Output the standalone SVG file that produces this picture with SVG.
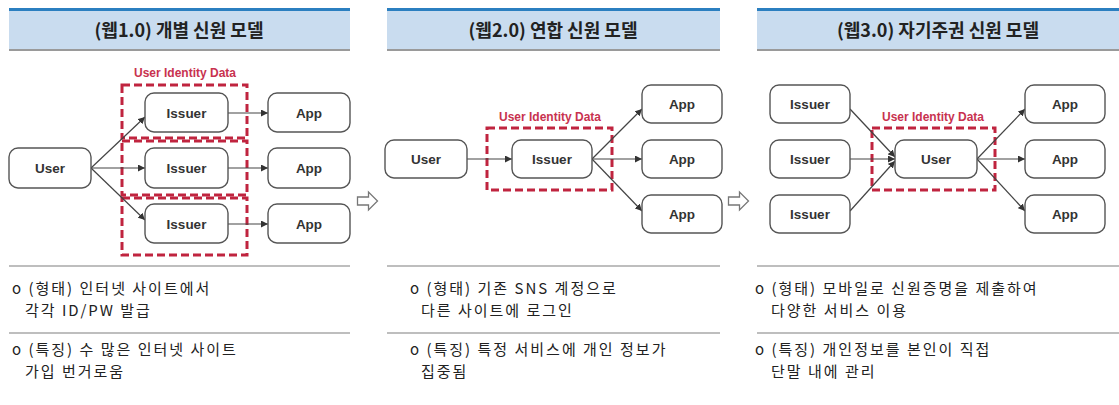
<svg xmlns="http://www.w3.org/2000/svg" width="1119" height="405" viewBox="0 0 1119 405">
<defs>
<marker id="ah" viewBox="0 0 10 10" refX="10" refY="5" markerWidth="7" markerHeight="7" markerUnits="userSpaceOnUse" orient="auto">
<path d="M0,0 L10,5 L0,10 z" fill="#333"/>
</marker>
<style>
.band{fill:#c9dcef}
.topl{stroke:#2b7fc0;stroke-width:3}
.botl{stroke:#9a9a9a;stroke-width:2}
.sep{stroke:#a8a8a8;stroke-width:1.5}
.title{font-family:"Noto Sans CJK KR","Noto Sans",sans-serif;font-size:18px;font-weight:bold;fill:#222;text-anchor:middle}
.node rect{fill:#fff;stroke:#555;stroke-width:1.4}
.node text{font-family:"Liberation Sans","Noto Sans",sans-serif;font-size:13.5px;font-weight:bold;fill:#333;text-anchor:middle}
.dash{fill:none;stroke:#c0243f;stroke-width:3;stroke-dasharray:8,4}
.uid{font-family:"Liberation Sans","Noto Sans",sans-serif;font-size:12px;font-weight:bold;fill:#c8324f;text-anchor:middle}
.conn line{stroke:#444;stroke-width:1.2;marker-end:url(#ah)}
.hollow{fill:#fff;stroke:#777;stroke-width:1.3}
.body{font-family:"Noto Sans CJK KR","Noto Sans",sans-serif;font-size:15px;letter-spacing:2px;fill:#222}
</style>
</defs>
<rect width="1119" height="405" fill="#fff"/>

<!-- Headers -->
<g id="header1">
<rect class="band" x="9" y="9" width="341" height="41"/>
<line class="topl" x1="9" y1="9.5" x2="350" y2="9.5"/>
<line class="botl" x1="9" y1="50" x2="350" y2="50"/>
<text class="title" x="179" y="37">(웹1.0) 개별 신원 모델</text>
</g>
<g id="header2">
<rect class="band" x="387" y="9" width="333" height="41"/>
<line class="topl" x1="387" y1="9.5" x2="720" y2="9.5"/>
<line class="botl" x1="387" y1="50" x2="720" y2="50"/>
<text class="title" x="553" y="37">(웹2.0) 연합 신원 모델</text>
</g>
<g id="header3">
<rect class="band" x="757" y="9" width="362" height="41"/>
<line class="topl" x1="757" y1="9.5" x2="1119" y2="9.5"/>
<line class="botl" x1="757" y1="50" x2="1119" y2="50"/>
<text class="title" x="938" y="37">(웹3.0) 자기주권 신원 모델</text>
</g>

<!-- Dashed "User Identity Data" groups -->
<g id="uid1">
<rect class="dash" x="122" y="85" width="125" height="53"/>
<rect class="dash" x="122" y="141" width="125" height="54"/>
<rect class="dash" x="122" y="198" width="125" height="57"/>
<text class="uid" x="185" y="77">User Identity Data</text>
</g>
<g id="uid2">
<rect class="dash" x="487" y="128" width="125" height="62"/>
<text class="uid" x="550" y="121">User Identity Data</text>
</g>
<g id="uid3">
<rect class="dash" x="872" y="128" width="123" height="62"/>
<text class="uid" x="933" y="121">User Identity Data</text>
</g>

<!-- Connectors -->
<g id="connectors" class="conn">
<line x1="91" y1="168" x2="145" y2="117"/>
<line x1="91" y1="168" x2="145" y2="168"/>
<line x1="91" y1="168" x2="145" y2="220"/>
<line x1="228" y1="113" x2="268" y2="113"/>
<line x1="228" y1="168" x2="268" y2="168"/>
<line x1="228" y1="224" x2="268" y2="224"/>

<line x1="467" y1="159" x2="512" y2="159"/>
<line x1="592" y1="159" x2="642" y2="109"/>
<line x1="592" y1="159" x2="642" y2="159"/>
<line x1="592" y1="159" x2="642" y2="211"/>

<line x1="850" y1="109" x2="895" y2="157"/>
<line x1="850" y1="159" x2="895" y2="159"/>
<line x1="850" y1="211" x2="895" y2="161"/>
<line x1="977" y1="159" x2="1025" y2="109"/>
<line x1="977" y1="159" x2="1025" y2="159"/>
<line x1="977" y1="159" x2="1025" y2="211"/>
</g>

<!-- Panel 1 nodes -->
<g id="p1-user" class="node"><rect x="9" y="148" width="82" height="40" rx="9"/><text x="50" y="173">User</text></g>
<g id="p1-issuer1" class="node"><rect x="145" y="93" width="83" height="39" rx="9"/><text x="186.5" y="117.5">Issuer</text></g>
<g id="p1-issuer2" class="node"><rect x="145" y="148" width="83" height="40" rx="9"/><text x="186.5" y="173">Issuer</text></g>
<g id="p1-issuer3" class="node"><rect x="145" y="204" width="83" height="39" rx="9"/><text x="186.5" y="228.5">Issuer</text></g>
<g id="p1-app1" class="node"><rect x="268" y="93" width="82" height="39" rx="9"/><text x="309" y="117.5">App</text></g>
<g id="p1-app2" class="node"><rect x="268" y="148" width="82" height="40" rx="9"/><text x="309" y="173">App</text></g>
<g id="p1-app3" class="node"><rect x="268" y="204" width="82" height="39" rx="9"/><text x="309" y="228.5">App</text></g>

<!-- Panel 2 nodes -->
<g id="p2-user" class="node"><rect x="385" y="140" width="82" height="38" rx="9"/><text x="426" y="164">User</text></g>
<g id="p2-issuer" class="node"><rect x="512" y="140" width="80" height="38" rx="9"/><text x="552" y="164">Issuer</text></g>
<g id="p2-app1" class="node"><rect x="642" y="85" width="80" height="38" rx="9"/><text x="682" y="109">App</text></g>
<g id="p2-app2" class="node"><rect x="642" y="140" width="80" height="38" rx="9"/><text x="682" y="164">App</text></g>
<g id="p2-app3" class="node"><rect x="642" y="195" width="80" height="38" rx="9"/><text x="682" y="219">App</text></g>

<!-- Panel 3 nodes -->
<g id="p3-issuer1" class="node"><rect x="770" y="85" width="80" height="38" rx="9"/><text x="810" y="109">Issuer</text></g>
<g id="p3-issuer2" class="node"><rect x="770" y="140" width="80" height="38" rx="9"/><text x="810" y="164">Issuer</text></g>
<g id="p3-issuer3" class="node"><rect x="770" y="195" width="80" height="38" rx="9"/><text x="810" y="219">Issuer</text></g>
<g id="p3-user" class="node"><rect x="895" y="140" width="82" height="38" rx="9"/><text x="936" y="164">User</text></g>
<g id="p3-app1" class="node"><rect x="1025" y="85" width="80" height="38" rx="9"/><text x="1065" y="109">App</text></g>
<g id="p3-app2" class="node"><rect x="1025" y="140" width="80" height="38" rx="9"/><text x="1065" y="164">App</text></g>
<g id="p3-app3" class="node"><rect x="1025" y="195" width="80" height="38" rx="9"/><text x="1065" y="219">App</text></g>

<!-- Hollow transition arrows -->
<g id="next1"><path class="hollow" d="M357.5,197 h11 v-5 l9,9 l-9,9 v-5 h-11 z"/></g>
<g id="next2"><path class="hollow" d="M728.5,197 h11 v-5 l9,9 l-9,9 v-5 h-11 z"/></g>

<!-- Description panels -->
<g id="desc1">
<line class="sep" x1="9" y1="266" x2="350" y2="266"/>
<line class="sep" x1="9" y1="333" x2="350" y2="333"/>
<text class="body" x="12" y="294">o (형태) 인터넷 사이트에서</text>
<text class="body" x="25" y="316">각각 ID/PW 발급</text>
<text class="body" x="12" y="355">o (특징) 수 많은 인터넷 사이트</text>
<text class="body" x="25" y="377">가입 번거로움</text>
</g>
<g id="desc2">
<line class="sep" x1="387" y1="266" x2="720" y2="266"/>
<line class="sep" x1="387" y1="333" x2="720" y2="333"/>
<text class="body" x="410" y="294">o (형태) 기존 SNS 계정으로</text>
<text class="body" x="421" y="316">다른 사이트에 로그인</text>
<text class="body" x="410" y="355">o (특징) 특정 서비스에 개인 정보가</text>
<text class="body" x="421" y="377">집중됨</text>
</g>
<g id="desc3">
<line class="sep" x1="757" y1="266" x2="1119" y2="266"/>
<line class="sep" x1="757" y1="333" x2="1119" y2="333"/>
<text class="body" x="755" y="294">o (형태) 모바일로 신원증명을 제출하여</text>
<text class="body" x="771" y="316">다양한 서비스 이용</text>
<text class="body" x="755" y="355">o (특징) 개인정보를 본인이 직접</text>
<text class="body" x="771" y="377">단말 내에 관리</text>
</g>
</svg>
